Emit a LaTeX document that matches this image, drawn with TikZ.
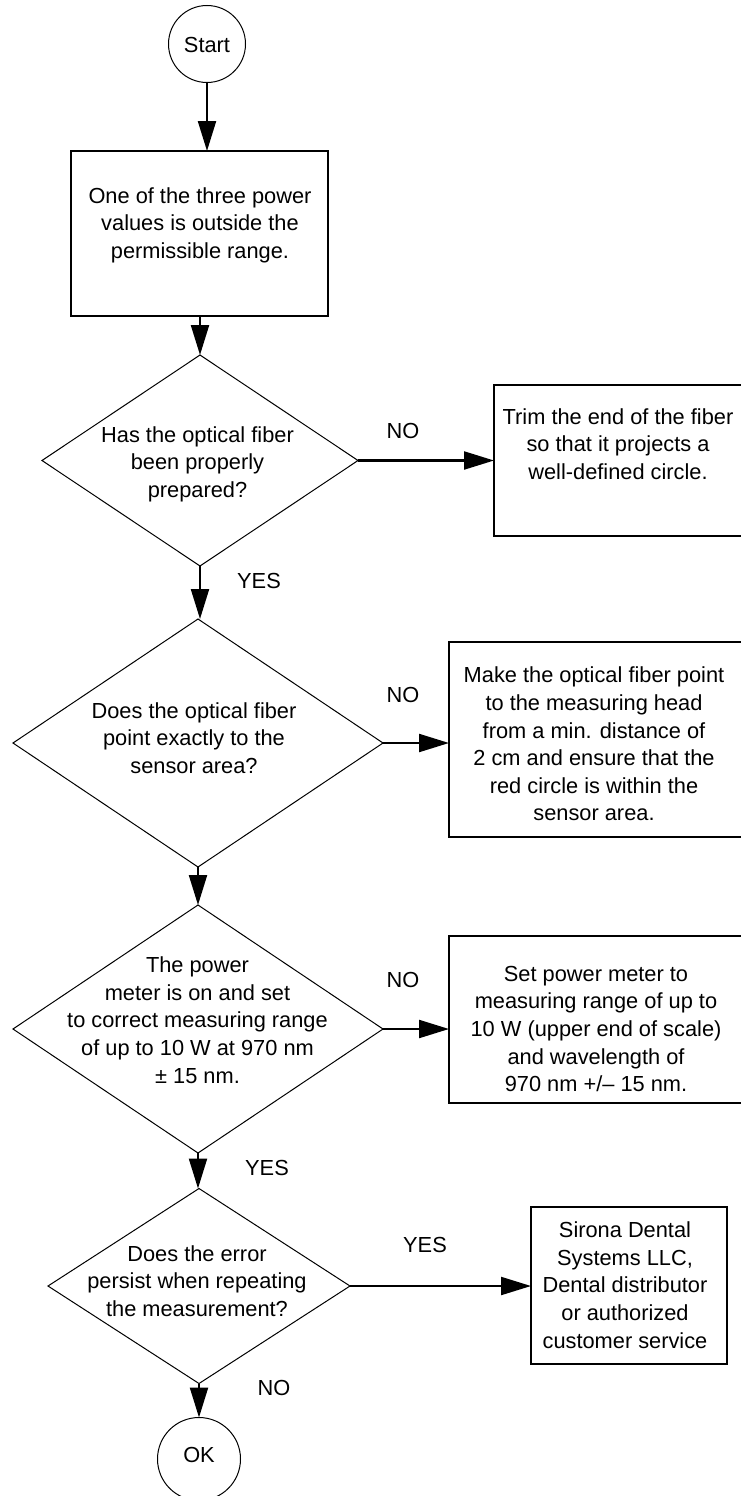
\documentclass[tikz,border=0pt]{standalone}
\usepackage{fontspec}
\setmainfont{Liberation Sans}
\usetikzlibrary{shapes.geometric,arrows.meta}
\begin{document}
\begin{tikzpicture}[x=1pt,y=-1pt,
  every node/.style={font=\fontsize{21.8}{27.6}\selectfont},
  term/.style={circle,draw,line width=1pt,inner sep=0,outer sep=0},
  procbox/.style={rectangle,draw,line width=2.3pt,inner sep=0,outer sep=0},
  decision/.style={diamond,draw,line width=1pt,inner sep=0,outer sep=0},
  txt/.style={align=center,inner sep=0},
  lbl/.style={inner sep=0},
  conn/.style={line width=2.2pt,-{Triangle[length=30pt,width=18pt]}}]
\clip (0,0) rectangle (741,1496);
\fill[white] (0,0) rectangle (741,1496);
% shapes
\node[term,minimum size=77pt] (start) at (207,44) {};
\node[txt] (startt) at (207,45) {Start};
\node[procbox,minimum width=257pt,minimum height=165pt] (box1) at (199.5,233.5) {};
\node[txt] (box1t) at (200,225) {One of the three power\\values is outside the\\permissible range.};
\node[decision,minimum width=316pt,minimum height=211pt] (d1) at (200,460.5) {};
\node[txt] (d1t) at (197.5,464) {Has the optical fiber\\been properly\\prepared?};
\node[procbox,minimum width=252pt,minimum height=151pt] (boxT) at (620,460.5) {};
\node[txt] (boxTt) at (618,444) {Trim the end of the fiber\\so that it projects a\\well-defined circle.};
\node[decision,minimum width=370pt,minimum height=248pt] (d2) at (198,743) {};
\node[txt] (d2t) at (194,738) {Does the optical fiber\\point exactly to the\\sensor area?};
\node[procbox,minimum width=297pt,minimum height=195pt] (box2) at (597.5,739.5) {};
\node[txt] (box2t) at (594,744) {Make the optical fiber point\\to the measuring head\\from a min. distance of\\2 cm and ensure that the\\red circle is within the\\sensor area.};
\node[decision,minimum width=370pt,minimum height=248pt] (d3) at (198,1029) {};
\node[txt] (d3t) at (197.5,1020) {The power\\meter is on and set\\to correct measuring range\\of up to 10 W at 970 nm\\± 15 nm.};
\node[procbox,minimum width=297pt,minimum height=167pt] (box3) at (597.5,1019.5) {};
\node[txt] (box3t) at (596,1029) {Set power meter to\\measuring range of up to\\10 W (upper end of scale)\\and wavelength of\\970 nm +/– 15 nm.};
\node[decision,minimum width=302pt,minimum height=195pt] (d4) at (199,1286) {};
\node[txt] (d4t) at (197,1281) {Does the error\\persist when repeating\\the measurement?};
\node[procbox,minimum width=196pt,minimum height=157pt] (box4) at (629,1285.5) {};
\node[txt] (box4t) at (625,1285) {Sirona Dental\\Systems LLC,\\Dental distributor\\or authorized\\customer service};
\node[term,minimum size=83pt] (ok) at (199,1459) {};
\node[txt] (okt) at (199,1455) {OK};
% labels
\node[lbl] (no1) at (403,431) {NO};
\node[lbl] (yes1) at (259,581) {YES};
\node[lbl] (no2) at (403,695) {NO};
\node[lbl] (no3) at (403,980) {NO};
\node[lbl] (yes3) at (267,1168) {YES};
\node[lbl] (yes4) at (425,1245) {YES};
\node[lbl] (no4) at (274,1388) {NO};
% connectors
\draw[conn] (start.south) -- (start.south |- box1.north);
\draw[conn] (d1.north |- box1.south) -- (d1.north);
\draw[conn] (d1.south) -- (d1.south |- d2.north);
\draw[conn] (d2.north |- d2.south) -- (d3.north);
\draw[conn] (d3.south) -- (d3.south |- d4.north);
\draw[conn] (d4.south) -- (d4.south |- ok.north);
\draw[conn] (d1.east) -- (d1.east -| boxT.west);
\draw[conn] (d2.east) -- (d2.east -| box2.west);
\draw[conn] (d3.east) -- (d3.east -| box3.west);
\draw[conn] (d4.east) -- (d4.east -| box4.west);
\end{tikzpicture}
\end{document}
